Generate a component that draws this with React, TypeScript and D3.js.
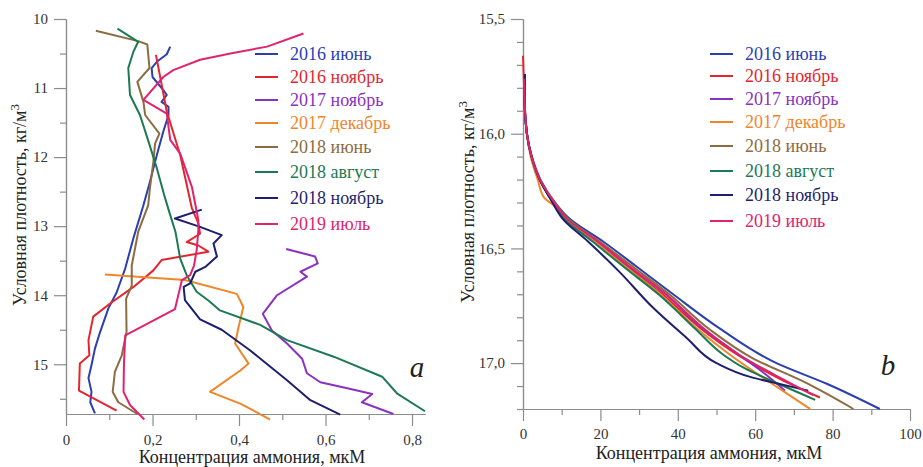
import React, { useEffect, useRef } from 'react';
import * as d3 from 'd3';

type Pt = [number, number];

const seriesNames = ['2016 июнь', '2016 ноябрь', '2017 ноябрь', '2017 декабрь', '2018 июнь', '2018 август', '2018 ноябрь', '2019 июль'];
const seriesColors = ['#2c3fae', '#e3262e', '#8a32c0', '#f0852a', '#8c6c40', '#1c7a52', '#1e1f6e', '#e0236e'];

// panel a: [концентрация, плотность]
const a2016Jun: Pt[] = [[0.241, 10.4], [0.233, 10.51], [0.21, 10.62], [0.198, 10.71], [0.2, 10.84], [0.225, 11.03], [0.233, 11.1], [0.221, 11.2], [0.237, 11.27], [0.237, 11.39], [0.225, 11.63], [0.21, 11.97], [0.194, 12.36], [0.178, 12.72], [0.156, 13.17], [0.137, 13.61], [0.117, 13.96], [0.098, 14.19], [0.079, 14.53], [0.067, 14.77], [0.059, 15.01], [0.052, 15.2], [0.059, 15.4], [0.056, 15.55], [0.067, 15.71]];
const a2016Nov: Pt[] = [[0.208, 10.52], [0.233, 11.34], [0.264, 11.97], [0.291, 12.74], [0.306, 12.96], [0.31, 13.11], [0.279, 13.23], [0.306, 13.28], [0.329, 13.37], [0.221, 13.49], [0.202, 13.64], [0.156, 13.88], [0.102, 14.12], [0.063, 14.31], [0.052, 14.65], [0.054, 14.87], [0.032, 14.99], [0.03, 15.38], [0.117, 15.67]];
const a2017Nov: Pt[] = [[0.509, 13.33], [0.576, 13.44], [0.582, 13.54], [0.542, 13.66], [0.557, 13.73], [0.488, 14.0], [0.455, 14.27], [0.476, 14.51], [0.511, 14.7], [0.546, 14.92], [0.557, 15.13], [0.588, 15.26], [0.653, 15.35], [0.708, 15.43], [0.684, 15.55], [0.757, 15.72]];
const a2017Dec: Pt[] = [[0.09, 13.7], [0.275, 13.78], [0.395, 13.98], [0.41, 14.17], [0.399, 14.46], [0.391, 14.7], [0.422, 14.99], [0.403, 15.09], [0.333, 15.4], [0.403, 15.57], [0.472, 15.8]];
const a2018Jun: Pt[] = [[0.069, 10.17], [0.167, 10.32], [0.188, 10.37], [0.193, 10.71], [0.165, 10.91], [0.179, 11.2], [0.183, 11.39], [0.216, 11.66], [0.206, 11.8], [0.202, 12.07], [0.194, 12.45], [0.19, 12.7], [0.167, 13.08], [0.152, 13.57], [0.152, 13.86], [0.139, 14.05], [0.14, 14.53], [0.129, 14.87], [0.113, 15.11], [0.108, 15.4], [0.121, 15.55], [0.165, 15.72]];
const a2018Aug: Pt[] = [[0.119, 10.14], [0.167, 10.33], [0.156, 10.47], [0.144, 10.71], [0.148, 11.1], [0.171, 11.39], [0.191, 11.78], [0.21, 12.16], [0.227, 12.55], [0.241, 12.84], [0.253, 13.08], [0.264, 13.47], [0.279, 13.71], [0.302, 13.95], [0.33, 14.08], [0.356, 14.22], [0.449, 14.43], [0.511, 14.65], [0.619, 14.89], [0.731, 15.18], [0.765, 15.42], [0.83, 15.68]];
const a2018Nov: Pt[] = [[0.314, 12.76], [0.252, 12.89], [0.31, 13.01], [0.36, 13.13], [0.341, 13.25], [0.349, 13.44], [0.322, 13.59], [0.299, 13.66], [0.287, 13.83], [0.272, 13.88], [0.275, 14.07], [0.31, 14.35], [0.36, 14.5], [0.426, 14.8], [0.511, 15.23], [0.565, 15.52], [0.634, 15.73]];
const a2019Jul: Pt[] = [[0.549, 10.21], [0.465, 10.4], [0.38, 10.5], [0.31, 10.59], [0.248, 10.74], [0.225, 10.84], [0.179, 11.17], [0.233, 11.37], [0.241, 11.75], [0.264, 11.95], [0.291, 12.43], [0.306, 12.91], [0.306, 13.06], [0.302, 13.35], [0.296, 13.57], [0.287, 13.71], [0.268, 13.78], [0.252, 14.2], [0.137, 14.58], [0.134, 14.99], [0.133, 15.4], [0.148, 15.59], [0.181, 15.8]];

// panel b
const b2016Jun: Pt[] = [[0.5, 15.74], [0.4, 15.85], [1.0, 16.0], [2.3, 16.1], [4.5, 16.2], [8.3, 16.3], [12, 16.37], [20.7, 16.47], [29.4, 16.58], [38.8, 16.7], [50.9, 16.85], [65.5, 17.0], [78.5, 17.09], [92.2, 17.2]];
const b2016Nov: Pt[] = [[0, 15.66], [0.2, 15.76], [0.4, 15.85], [1.0, 16.0], [2.2, 16.1], [4.3, 16.2], [8.0, 16.3], [11.2, 16.37], [19, 16.47], [27, 16.58], [36, 16.7], [46, 16.85], [56, 16.97], [66.5, 17.07], [76.7, 17.15]];
const b2017Nov: Pt[] = [[0.4, 15.75], [0.4, 15.85], [1.0, 16.0], [2.2, 16.1], [4.3, 16.2], [8.0, 16.3], [11.2, 16.37], [19.2, 16.47], [27.5, 16.58], [36.8, 16.7], [46.5, 16.85], [55.5, 16.96], [62, 17.04], [67.7, 17.12]];
const b2017Dec: Pt[] = [[0.3, 15.76], [0.4, 15.85], [1.0, 16.0], [2.0, 16.1], [3.8, 16.2], [5.5, 16.28], [7.8, 16.31], [11, 16.37], [18.5, 16.47], [26.5, 16.58], [35.5, 16.7], [45, 16.85], [54, 16.97], [63.5, 17.08], [74.2, 17.2]];
const b2018Jun: Pt[] = [[0.4, 15.76], [0.4, 15.85], [1.0, 16.0], [2.2, 16.1], [4.4, 16.2], [8.2, 16.3], [11.6, 16.37], [19.8, 16.47], [28.4, 16.58], [37.8, 16.7], [48, 16.85], [59.5, 16.98], [72.4, 17.08], [85.4, 17.2]];
const b2018Aug: Pt[] = [[0.4, 15.76], [0.4, 15.85], [1.0, 16.0], [2.2, 16.1], [4.3, 16.2], [7.8, 16.3], [10.6, 16.37], [18, 16.47], [26, 16.58], [35, 16.7], [44.5, 16.85], [51.5, 16.96], [57, 17.02], [66, 17.09], [75.5, 17.16]];
const b2018Nov: Pt[] = [[0.5, 15.74], [0.4, 15.85], [1.0, 16.0], [2.2, 16.1], [4.3, 16.2], [7.6, 16.3], [10.2, 16.37], [16.8, 16.47], [24.8, 16.6], [33.7, 16.76], [42.3, 16.89], [50, 17.0], [58.7, 17.06], [66, 17.09], [73.7, 17.12]];
const b2019Jul: Pt[] = [[0.3, 15.76], [0.4, 15.85], [1.0, 16.0], [2.2, 16.1], [4.4, 16.2], [8.1, 16.3], [11.3, 16.37], [19.4, 16.47], [27.6, 16.58], [37, 16.7], [46.8, 16.85], [56.5, 16.97], [66, 17.06], [75, 17.14]];

const panelAData = [a2016Jun, a2016Nov, a2017Nov, a2017Dec, a2018Jun, a2018Aug, a2018Nov, a2019Jul];
const panelBData = [b2016Jun, b2016Nov, b2017Nov, b2017Dec, b2018Jun, b2018Aug, b2018Nov, b2019Jul];

const aMajorY = [10, 11, 12, 13, 14, 15];
const aMinorY = [10.5, 11.5, 12.5, 13.5, 14.5, 15.5];
const aMajorX = [0, 0.2, 0.4, 0.6, 0.8];
const aMinorX = [0.1, 0.3, 0.5, 0.7];
const bMajorY = [15.5, 16, 16.5, 17];
const bMinorY = [15.6, 15.7, 15.8, 15.9, 16.1, 16.2, 16.3, 16.4, 16.6, 16.7, 16.8, 16.9, 17.1, 17.2];
const bMajorX = [0, 20, 40, 60, 80, 100];
const bMinorX = [10, 30, 50, 70, 90];

const FONT = 'Liberation Serif, Times New Roman, serif';
const AXIS = '#8c8c8c';

const comma = (f: (n: number) => string) => (d: any) => (d === 0 ? '0' : f(d).replace('.', ','));

function drawPanel(svg: any, o: any) {
  const { x, y } = o;
  const x0 = x.range()[0];
  const yBottom = y.range()[1];
  const g = svg.append('g');

  const styleAxis = (sel: any) => {
    sel.selectAll('path, line').attr('stroke', AXIS).attr('stroke-width', 1.2);
    sel.selectAll('text').attr('font-family', FONT).attr('font-size', 15).attr('fill', '#333');
  };

  // Y axis
  g.append('g').attr('transform', `translate(${x0},0)`)
    .call(d3.axisLeft(y).tickValues(o.majorY).tickSize(12).tickSizeOuter(0).tickPadding(6).tickFormat(o.fmtY))
    .call(styleAxis);
  g.append('g').attr('transform', `translate(${x0},0)`)
    .call(d3.axisLeft(y).tickValues(o.minorY).tickSize(6).tickSizeOuter(0).tickFormat(() => ''))
    .call(styleAxis);

  // X axis
  g.append('g').attr('transform', `translate(0,${yBottom})`)
    .call(d3.axisBottom(x).tickValues(o.majorX).tickSize(12).tickSizeOuter(0).tickPadding(o.xPad).tickFormat(o.fmtX))
    .call(styleAxis);
  g.append('g').attr('transform', `translate(0,${yBottom})`)
    .call(d3.axisBottom(x).tickValues(o.minorX).tickSize(6).tickSizeOuter(0).tickFormat(() => ''))
    .call(styleAxis);

  // Lines
  const line = d3.line<Pt>().x(d => x(d[0])).y(d => y(d[1])).curve(o.curve);
  g.selectAll('.series')
    .data(o.data)
    .enter().append('path')
    .attr('class', 'series')
    .attr('d', (d: Pt[]) => line(d))
    .attr('fill', 'none')
    .attr('stroke', (_: any, i: number) => seriesColors[i])
    .attr('stroke-width', 2)
    .attr('stroke-linejoin', 'round');

  // Legend
  const lg = g.append('g');
  seriesNames.forEach((name, i) => {
    const ry = o.legendRows[i];
    lg.append('line')
      .attr('x1', o.legendX).attr('x2', o.legendX + 23)
      .attr('y1', ry).attr('y2', ry)
      .attr('stroke', seriesColors[i]).attr('stroke-width', 2);
    lg.append('text')
      .attr('x', o.legendX + 35).attr('y', ry + 6)
      .attr('font-family', FONT).attr('font-size', 18)
      .attr('fill', seriesColors[i])
      .text(name);
  });

  // Axis titles
  g.append('text')
    .attr('x', o.xLabelX).attr('y', o.xLabelY)
    .attr('text-anchor', 'middle')
    .attr('font-family', FONT).attr('font-size', 18).attr('fill', '#222')
    .text('Концентрация аммония, мкМ');

  const yl = g.append('text')
    .attr('transform', `translate(${o.yLabelX},${o.yLabelY}) rotate(-90)`)
    .attr('text-anchor', 'middle')
    .attr('font-family', FONT).attr('font-size', 18).attr('fill', '#222');
  yl.append('tspan').text('Условная плотность, кг/м');
  yl.append('tspan').attr('dy', -7).attr('font-size', 13).text('3');

  g.append('text')
    .attr('x', o.letterX).attr('y', o.letterY)
    .attr('text-anchor', 'middle')
    .attr('font-family', FONT).attr('font-style', 'italic').attr('font-size', 29).attr('fill', '#222')
    .text(o.letter);
}

const App = () => {
  const ref = useRef<SVGSVGElement>(null);

  useEffect(() => {
    const svg = d3.select(ref.current);
    svg.selectAll('*').remove();

    const xa = d3.scaleLinear().domain([0, 0.83]).range([66, 425]);
    const ya = d3.scaleLinear().domain([10, 15.72]).range([19, 414]);
    drawPanel(svg, {
      x: xa, y: ya, data: panelAData,
      majorX: aMajorX, minorX: aMinorX, majorY: aMajorY, minorY: aMinorY,
      fmtX: comma(d3.format('.1f')), fmtY: (d: any) => String(d),
      xPad: 8, curve: d3.curveLinear,
      legendX: 255, legendRows: [54, 77, 100, 123, 147, 172, 198, 224],
      xLabelX: 252, xLabelY: 463, yLabelX: 26, yLabelY: 205,
      letter: 'a', letterX: 417, letterY: 377,
    });

    const xb = d3.scaleLinear().domain([0, 100]).range([523, 910]);
    const yb = d3.scaleLinear().domain([15.5, 17.2]).range([19, 409]);
    drawPanel(svg, {
      x: xb, y: yb, data: panelBData,
      majorX: bMajorX, minorX: bMinorX, majorY: bMajorY, minorY: bMinorY,
      fmtX: (d: any) => String(d), fmtY: comma(d3.format('.1f')),
      xPad: 7, curve: d3.curveMonotoneY,
      legendX: 710, legendRows: [54, 76, 99, 122, 146, 171, 195, 221],
      xLabelX: 709, xLabelY: 459, yLabelX: 474, yLabelY: 202,
      letter: 'b', letterX: 888, letterY: 375,
    });
  }, []);

  return (
    <svg ref={ref} width={923} height={467}
      style={{ position: 'absolute', left: 0, top: 0, background: '#fff' }} />
  );
};

export default App;
